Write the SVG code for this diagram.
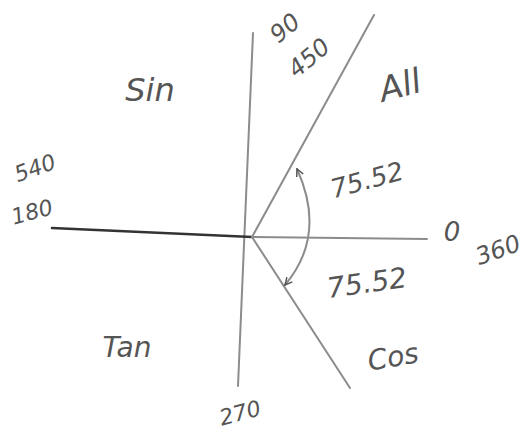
<svg xmlns="http://www.w3.org/2000/svg" width="529" height="434" viewBox="0 0 529 434">
<style>
.ln{stroke:#8c8c8c;stroke-width:2;fill:none;stroke-linecap:round}
.dk{stroke:#333;stroke-width:2.6;fill:none;stroke-linecap:round}
.t{font-family:"DejaVu Sans",sans-serif;fill:#555;text-anchor:middle;dominant-baseline:central;font-style:italic}
</style>
<defs>
<marker id="ah" viewBox="0 0 10 10" refX="9" refY="5" markerWidth="9" markerHeight="9" orient="auto-start-reverse" markerUnits="userSpaceOnUse">
<path d="M1,1 L9,5 L1,9" fill="none" stroke="#555" stroke-width="1.6"/>
</marker>
</defs>
<rect width="529" height="434" fill="#fff"/>
<g id="connectors">
<path class="ln" d="M253,33 L238,386"/>
<path class="dk" d="M52,228 L252,237"/>
<path class="ln" d="M252,237 L427,239"/>
<path class="ln" d="M252,237 L374,15"/>
<path class="ln" d="M252,237 L350,388"/>
<path class="ln" d="M297,169 Q327,235 285,285" marker-start="url(#ah)" marker-end="url(#ah)"/>
</g>
<g id="label-90"><text class="t" x="285" y="28" font-size="24" transform="rotate(-40 285 28)">90</text></g>
<g id="label-450"><text class="t" x="309" y="58" font-size="24" transform="rotate(-40 309 58)">450</text></g>
<g id="label-all"><text class="t" x="400" y="85" font-size="34" transform="rotate(-15 400 85)">All</text></g>
<g id="label-sin"><text class="t" x="150" y="90" font-size="32">Sin</text></g>
<g id="label-540"><text class="t" x="35" y="168" font-size="22" transform="rotate(-20 35 168)">540</text></g>
<g id="label-180"><text class="t" x="32" y="212" font-size="22" transform="rotate(-15 32 212)">180</text></g>
<g id="label-angle-up"><text class="t" x="367" y="180" font-size="26" transform="rotate(-15 367 180)">75.52</text></g>
<g id="label-0"><text class="t" x="452" y="232" font-size="26">0</text></g>
<g id="label-360"><text class="t" x="498" y="250" font-size="24" transform="rotate(-20 498 250)">360</text></g>
<g id="label-angle-down"><text class="t" x="367" y="283" font-size="28" transform="rotate(-8 367 283)">75.52</text></g>
<g id="label-cos"><text class="t" x="393" y="357" font-size="28" transform="rotate(-10 393 357)">Cos</text></g>
<g id="label-tan"><text class="t" x="127" y="347" font-size="28">Tan</text></g>
<g id="label-270"><text class="t" x="240" y="413" font-size="22" transform="rotate(-15 240 413)">270</text></g>
</svg>
